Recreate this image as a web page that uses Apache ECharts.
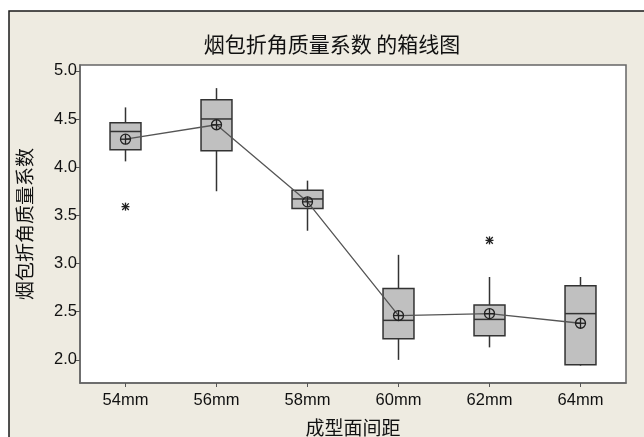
<!DOCTYPE html>
<html>
<head>
<meta charset="utf-8">
<script src="https://cdn.jsdelivr.net/npm/echarts@6/dist/echarts.min.js"></script>
<style>html,body{margin:0;padding:0;background:#fff;}#c{width:644px;height:437px;}</style>
</head>
<body>
<div id="c"></div>
<script>
var categories = ['54mm','56mm','58mm','60mm','62mm','64mm'];
var whiskerLow = [4.06, 3.75, 3.34, 2.00, 2.13, 1.94];
var q1Values = [4.18, 4.17, 3.57, 2.22, 2.25, 1.95];
var medians = [4.37, 4.50, 3.67, 2.41, 2.42, 2.48];
var q3Values = [4.46, 4.70, 3.76, 2.74, 2.57, 2.77];
var whiskerHigh = [4.62, 4.82, 3.86, 3.09, 2.86, 2.86];
var means = [4.29, 4.44, 3.64, 2.46, 2.48, 2.38];
var outlierCats = [0, 4];
var outlierValues = [3.59, 3.24];
var yTicks = [2.0, 2.5, 3.0, 3.5, 4.0, 4.5, 5.0];

var FONT = '"Liberation Sans", Arial, "Noto Sans CJK SC", sans-serif';
var CJK = '"Noto Sans CJK SC", sans-serif';

var boxData = categories.map(function (c, i) {
  return [i, whiskerLow[i], q1Values[i], medians[i], q3Values[i], whiskerHigh[i]];
});
var meanData = categories.map(function (c, i) { return [i, means[i]]; });
var outData = outlierCats.map(function (c, i) { return [c, outlierValues[i]]; });

var chart = echarts.init(document.getElementById('c'), null, {renderer: 'canvas'});
chart.setOption({
  backgroundColor: '#ffffff',
  animation: false,
  graphic: [{
    type: 'rect', z: -10, silent: true,
    shape: {x: 9, y: 11, width: 700, height: 500},
    style: {fill: '#EEEBE1', stroke: '#1a1a1a', lineWidth: 1.5}
  }],
  title: {
    text: '烟包折角质量系数 的箱线图',
    left: 327, top: 29, textAlign: 'center',
    textStyle: {fontFamily: CJK, fontSize: 21, fontWeight: 'normal', color: '#111'}
  },
  grid: {
    left: 80, right: 18, top: 65, bottom: 54,
    outerBoundsMode: 'none', containLabel: false,
    show: true, backgroundColor: '#ffffff', borderColor: '#666', borderWidth: 1.5
  },
  xAxis: {
    type: 'category', data: categories, boundaryGap: true,
    name: '成型面间距', nameLocation: 'middle', nameGap: 35,
    nameTextStyle: {fontFamily: CJK, fontSize: 19, color: '#111'},
    axisLine: {show: true, lineStyle: {color: '#666', width: 1.5}},
    axisTick: {show: true, alignWithLabel: true, length: 4, lineStyle: {color: '#555'}},
    axisLabel: {fontFamily: FONT, fontSize: 16.5, color: '#111', margin: 9},
    splitLine: {show: false}
  },
  yAxis: {
    type: 'value', min: 1.76, max: 5.06,
    name: '烟包折角质量系数', nameLocation: 'middle', nameGap: 46, nameRotate: 90,
    nameTextStyle: {fontFamily: CJK, fontSize: 19, color: '#111'},
    axisLine: {show: true, lineStyle: {color: '#666', width: 1.5}},
    axisTick: {show: true, length: 4, customValues: yTicks, lineStyle: {color: '#555'}},
    axisLabel: {fontFamily: FONT, fontSize: 16.5, color: '#111', margin: 3, customValues: yTicks,
      formatter: function (v) { return v.toFixed(1); }},
    splitLine: {show: false}
  },
  series: [
    {
      type: 'custom', z: 2,
      data: boxData,
      encode: {x: 0, y: [1, 2, 3, 4, 5]},
      renderItem: function (params, api) {
        var i = api.value(0);
        var w = api.size([1, 0])[0] * 0.34;
        var lo = api.coord([i, api.value(1)]);
        var b1 = api.coord([i, api.value(2)]);
        var md = api.coord([i, api.value(3)]);
        var b3 = api.coord([i, api.value(4)]);
        var hi = api.coord([i, api.value(5)]);
        var x = lo[0];
        var st = {stroke: '#333', lineWidth: 1.5, fill: null};
        return {
          type: 'group',
          children: [
            {type: 'line', shape: {x1: x, y1: hi[1], x2: x, y2: b3[1]}, style: st},
            {type: 'line', shape: {x1: x, y1: b1[1], x2: x, y2: lo[1]}, style: st},
            {type: 'rect', shape: {x: x - w / 2, y: b3[1], width: w, height: b1[1] - b3[1]},
              style: {fill: '#C0C0C0', stroke: '#333', lineWidth: 1.5}},
            {type: 'line', shape: {x1: x - w / 2, y1: md[1], x2: x + w / 2, y2: md[1]}, style: st}
          ]
        };
      }
    },
    {
      type: 'line', z: 3, data: meanData, symbol: 'none',
      lineStyle: {color: '#555', width: 1.3}
    },
    {
      type: 'custom', z: 4, data: meanData,
      encode: {x: 0, y: 1},
      renderItem: function (params, api) {
        var p = api.coord([api.value(0), api.value(1)]);
        var r = 5;
        var st = {stroke: '#222', lineWidth: 1.3, fill: null};
        return {
          type: 'group',
          children: [
            {type: 'circle', shape: {cx: p[0], cy: p[1], r: r}, style: st},
            {type: 'line', shape: {x1: p[0] - r, y1: p[1], x2: p[0] + r, y2: p[1]}, style: st},
            {type: 'line', shape: {x1: p[0], y1: p[1] - r, x2: p[0], y2: p[1] + r}, style: st}
          ]
        };
      }
    },
    {
      type: 'custom', z: 4, data: outData,
      encode: {x: 0, y: 1},
      renderItem: function (params, api) {
        var p = api.coord([api.value(0), api.value(1)]);
        var r = 4, d = 3.3;
        var st = {stroke: '#222', lineWidth: 1.3, fill: null};
        return {
          type: 'group',
          children: [
            {type: 'line', shape: {x1: p[0], y1: p[1] - r, x2: p[0], y2: p[1] + r}, style: st},
            {type: 'line', shape: {x1: p[0] - d, y1: p[1] - d, x2: p[0] + d, y2: p[1] + d}, style: st},
            {type: 'line', shape: {x1: p[0] - d, y1: p[1] + d, x2: p[0] + d, y2: p[1] - d}, style: st},
            {type: 'line', shape: {x1: p[0] - r, y1: p[1], x2: p[0] + r, y2: p[1]}, style: st}
          ]
        };
      }
    }
  ]
});
</script>
</body>
</html>
